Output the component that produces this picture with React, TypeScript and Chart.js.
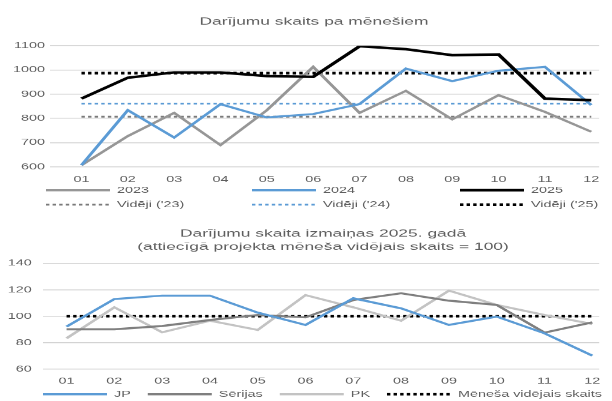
import React, { useEffect, useRef } from "react";
import { Chart, registerables } from "chart.js";

Chart.register(...registerables);

// ---------- data ----------
const months = ["01", "02", "03", "04", "05", "06", "07", "08", "09", "10", "11", "12"];

const deals2023 = [607, 727, 823, 690, 834, 1013, 823, 914, 796, 896, 827, 745];
const deals2024 = [607, 834, 721, 859, 804, 818, 859, 1006, 954, 997, 1013, 855];
const deals2025 = [882, 968, 990, 990, 975, 972, 1098, 1086, 1061, 1064, 882, 875];
const average2023 = 807;
const average2024 = 861;
const average2025 = 987;

const indexJP = [92.2, 113, 115.6, 115.6, 102.8, 93.5, 113.6, 106, 93.5, 99.8, 87.2, 70.3];
const indexSerijas = [90.2, 90.2, 92.7, 97.2, 101, 99.2, 112.3, 117.4, 111.8, 108.6, 87.7, 95.5];
const indexPK = [83.4, 106.8, 87.9, 96.7, 89.7, 116, 106.8, 96.7, 119.4, 108.6, 101, 94.2];
const monthlyAverageIndex = 100;

const topTitle = ["Darījumu skaits pa mēnešiem"];
const bottomTitle = [
  "Darījumu skaita izmaiņas 2025. gadā",
  "(attiecīgā projekta mēneša vidējais skaits = 100)",
];

// ---------- styles ----------
const FONT = '"Liberation Sans", Arial, sans-serif';
const TEXT_COLOR = "#5f5f5f";
const GRID_COLOR = "#d3d3d3";
const LABEL_SIZE = 14.4;
const TITLE_SIZE = 17.4;
const WIDTH = 612;
const SAMPLE = 64;

const GRAY_23 = "#969696";
const BLUE = "#5b9bd5";
const BLACK = "#000000";
const DARK_GRAY = "#7f7f7f";
const LIGHT_GRAY = "#c3c3c3";

const toPoints = (values: number[]) => values.map((y, i) => ({ x: i + 1, y }));
const constantPoints = (value: number) => months.map((_, i) => ({ x: i + 1, y: value }));

const overlayPlugin = {
  id: "overlay",
  afterDraw(chart: any, _args: any, opts: any) {
    const ctx = chart.ctx as CanvasRenderingContext2D;
    ctx.save();
    ctx.fillStyle = TEXT_COLOR;
    ctx.textBaseline = "middle";
    ctx.textAlign = "center";
    ctx.font = `${TITLE_SIZE}px ${FONT}`;
    (opts.titleLines as string[]).forEach((t, i) =>
      ctx.fillText(t, opts.titleX, opts.titleY + i * opts.titleLineHeight)
    );
    ctx.font = `${LABEL_SIZE}px ${FONT}`;
    ctx.textAlign = "left";
    const datasets = chart.data.datasets;
    let flowX = opts.startX;
    datasets.forEach((ds: any, i: number) => {
      let x: number;
      let y: number;
      if (opts.mode === "grid") {
        x = opts.columns[i % opts.columns.length];
        y = opts.rows[Math.floor(i / opts.columns.length)];
      } else {
        x = flowX;
        y = opts.y;
      }
      ctx.save();
      ctx.strokeStyle = ds.borderColor;
      ctx.lineWidth = ds.borderWidth;
      ctx.lineCap = "butt";
      ctx.setLineDash(ds.borderDash || []);
      ctx.beginPath();
      ctx.moveTo(x, y);
      ctx.lineTo(x + SAMPLE, y);
      ctx.stroke();
      ctx.restore();
      ctx.fillText(ds.label, x + SAMPLE + 7, y);
      flowX = x + SAMPLE + 7 + ctx.measureText(ds.label).width + opts.gap;
    });
    ctx.restore();
  },
};

function xAxis(min: number, max: number, height: number, padding: number) {
  return {
    type: "linear",
    min,
    max,
    grid: { display: false, drawTicks: false },
    border: { display: false },
    afterBuildTicks: (axis: any) => {
      axis.ticks = months.map((_, i) => ({ value: i + 1 }));
    },
    afterFit: (axis: any) => {
      axis.height = height;
    },
    ticks: {
      autoSkip: false,
      maxRotation: 0,
      padding,
      color: TEXT_COLOR,
      font: { family: FONT, size: LABEL_SIZE },
      callback: (v: number) => months[Math.round(v) - 1] ?? "",
    },
  };
}

function yAxis(min: number, max: number, step: number, width: number, padding: number) {
  return {
    type: "linear",
    min,
    max,
    grid: { color: GRID_COLOR, lineWidth: 1.5, drawTicks: false },
    border: { display: false },
    afterFit: (axis: any) => {
      axis.width = width;
    },
    ticks: {
      stepSize: step,
      padding,
      color: TEXT_COLOR,
      font: { family: FONT, size: LABEL_SIZE },
      callback: (v: number) => String(v),
    },
  };
}

const lineSet = (label: string, data: any[], color: string, width: number, order: number, dash?: number[]) => ({
  label,
  data,
  borderColor: color,
  backgroundColor: color,
  borderWidth: width,
  borderDash: dash || [],
  borderCapStyle: "butt",
  fill: false,
  pointRadius: 0,
  tension: 0,
  order,
});

const DOT = [3.4, 3.2];

function topConfig(): any {
  return {
    type: "line",
    data: {
      datasets: [
        lineSet("2023", toPoints(deals2023), GRAY_23, 3.4, 3),
        lineSet("2024", toPoints(deals2024), BLUE, 3.4, 2),
        lineSet("2025", toPoints(deals2025), BLACK, 4.2, 1),
        lineSet("Vidēji ('23)", constantPoints(average2023), "#7a7a7a", 3, 6, DOT),
        lineSet("Vidēji ('24)", constantPoints(average2024), BLUE, 3, 5, DOT),
        lineSet("Vidēji ('25)", constantPoints(average2025), BLACK, 4.4, 4, DOT),
      ],
    },
    options: {
      responsive: false,
      animation: false,
      devicePixelRatio: 1,
      layout: { padding: { top: 76.2, bottom: 40.2, left: 0, right: 9 } },
      plugins: {
        legend: { display: false },
        title: { display: false },
        tooltip: { enabled: false },
        overlay: {
          titleLines: topTitle,
          titleX: 314,
          titleY: 36.5,
          titleLineHeight: 21.75,
          mode: "grid",
          columns: [46, 252, 460],
          rows: [316.7, 340.8],
          gap: 0,
        },
      },
      scales: {
        x: xAxis(0.321, 12.17, 40, 12.6),
        y: yAxis(600, 1100, 100, 50, 5),
      },
    },
    plugins: [overlayPlugin],
  };
}

function bottomConfig(): any {
  return {
    type: "line",
    data: {
      datasets: [
        lineSet("JP", toPoints(indexJP), BLUE, 3.4, 1),
        lineSet("Sērijas", toPoints(indexSerijas), DARK_GRAY, 3.4, 2),
        lineSet("PK", toPoints(indexPK), LIGHT_GRAY, 3.4, 3),
        lineSet("Mēneša vidējais skaits", constantPoints(monthlyAverageIndex), BLACK, 4, 4, DOT),
      ],
    },
    options: {
      responsive: false,
      animation: false,
      devicePixelRatio: 1,
      layout: { padding: { top: 80.5, bottom: 17.8, left: 0, right: 9 } },
      plugins: {
        legend: { display: false },
        title: { display: false },
        tooltip: { enabled: false },
        overlay: {
          titleLines: bottomTitle,
          titleX: 323,
          titleY: 31.7,
          titleLineHeight: 21.6,
          mode: "flow",
          startX: 43,
          y: 298.8,
          gap: 17,
        },
      },
      scales: {
        x: xAxis(0.507, 12.145, 35, 11.6),
        y: yAxis(60, 140, 20, 43, 11.3),
      },
    },
    plugins: [overlayPlugin],
  };
}

function ChartCanvas({ makeConfig, pixelHeight, cssHeight }: { makeConfig: () => any; pixelHeight: number; cssHeight: number }) {
  const ref = useRef<HTMLCanvasElement | null>(null);
  useEffect(() => {
    const canvas = ref.current!;
    canvas.width = WIDTH;
    canvas.height = pixelHeight;
    canvas.style.width = `${WIDTH}px`;
    canvas.style.height = `${cssHeight}px`;
    const chart = new Chart(canvas, makeConfig());
    return () => chart.destroy();
  }, []);
  return (
    <canvas
      ref={ref}
      width={WIDTH}
      height={pixelHeight}
      style={{ display: "block", width: `${WIDTH}px`, height: `${cssHeight}px` }}
    />
  );
}

export default function App() {
  return (
    <div
      style={{
        position: "absolute",
        left: 0,
        top: 0,
        width: WIDTH,
        height: 401,
        background: "#ffffff",
        overflow: "hidden",
      }}
    >
      <ChartCanvas makeConfig={topConfig} pixelHeight={358} cssHeight={215} />
      <ChartCanvas makeConfig={bottomConfig} pixelHeight={310} cssHeight={186} />
    </div>
  );
}
